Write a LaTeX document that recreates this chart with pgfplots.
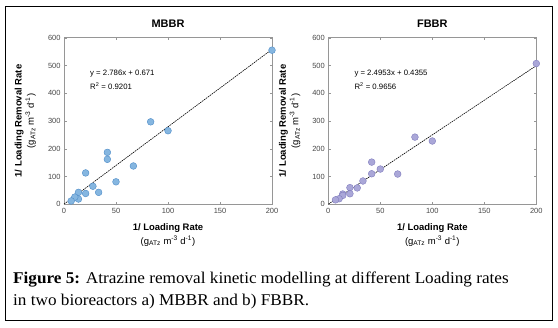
\documentclass[border=0pt]{standalone}
\usepackage{fontspec}
\setmainfont{Liberation Sans}
\newfontfamily\capfont{Liberation Serif}
\usepackage{pgfplots}
\pgfplotsset{compat=1.18}
\definecolor{mb}{RGB}{133,182,224}
\definecolor{mbe}{RGB}{78,140,200}
\definecolor{fb}{RGB}{170,167,216}
\definecolor{fbe}{RGB}{128,124,190}
\definecolor{axgray}{RGB}{150,150,150}
\definecolor{tickgray}{RGB}{70,70,70}
\pgfplotsset{myax/.style={
  scale only axis, width=208bp, height=166.6bp,
  xmin=0, xmax=200, ymin=0, ymax=600,
  xtick={0,50,...,200}, ytick={0,100,...,600},
  axis line style={axgray, line width=0.5pt},
  tick style={axgray, line width=0.4pt}, tick align=inside, major tick length=2.5bp,
  ticklabel style={font=\fontsize{7.5}{8}\selectfont, text=tickgray},
  /pgf/number format/assume math mode=true,
  title style={font=\bfseries\fontsize{11}{12}\selectfont, at={(axis description cs:0.5,1)}, anchor=base, yshift=4.5bp},
  xlabel style={align=center, font=\fontsize{9.5}{14}\selectfont, at={(axis description cs:0.5,-0.093)}, anchor=north},
  ylabel style={align=center, font=\fontsize{9.5}{12.5}\selectfont, at={(axis description cs:-0.118,0.5)}, anchor=south},
  xlabel={\textbf{1/ Loading Rate}\\(g\textsubscript{ATz} m\textsuperscript{-3} d\textsuperscript{-1})},
  ylabel={\textbf{1/ Loading Removal Rate}\\(g\textsubscript{ATz} m\textsuperscript{-3} d\textsuperscript{-1})},
  clip=false,
}}
\begin{document}
\begin{tikzpicture}[x=1bp,y=1bp]
\path[use as bounding box] (0,0) rectangle (558,327);
\draw[line width=0.9bp] (5.5,6.5) rectangle (552.5,321);

\begin{axis}[myax, at={(64bp,122.7bp)}, anchor=south west, title={MBBR}]
\addplot[black, line width=0.6pt, dash pattern=on 1.6pt off 0.8pt] coordinates {(0,0.671) (200,557.9)};
\addplot[only marks, mark=*, mark size=3.4bp, mark options={fill=mb, draw=mbe, line width=0.4pt}] coordinates {
(200,555) (83.3,297) (100,265) (41.7,187) (41.7,162) (66.7,138) (20.8,113)
(50,81) (27.8,65) (33.3,43) (20.8,39) (13.9,43) (13.9,19) (10.4,26) (6.9,12)
};
\node[anchor=west, font=\fontsize{7.8}{9}\selectfont, inner sep=0pt] at (axis cs:25,471) {y = 2.786x + 0.671};
\node[anchor=west, font=\fontsize{7.8}{9}\selectfont, inner sep=0pt] at (axis cs:25,427) {R\textsuperscript{2} = 0.9201};
\end{axis}

\begin{axis}[myax, at={(328.3bp,122.7bp)}, anchor=south west, title={FBBR}]
\addplot[black, line width=0.6pt, dash pattern=on 1.6pt off 0.8pt] coordinates {(0,0.4355) (200,499.5)};
\addplot[only marks, mark=*, mark size=3.4bp, mark options={fill=fb, draw=fbe, line width=0.4pt}] coordinates {
(200,507) (83.3,242) (100,228) (41.7,152) (41.7,110) (50,127) (66.7,109)
(33.3,84) (27.8,59) (20.8,60) (20.8,38) (13.9,37) (13.9,32) (10.4,20) (6.9,16)
};
\node[anchor=west, font=\fontsize{7.8}{9}\selectfont, inner sep=0pt] at (axis cs:25,471) {y = 2.4953x + 0.4355};
\node[anchor=west, font=\fontsize{7.8}{9}\selectfont, inner sep=0pt] at (axis cs:25,427) {R\textsuperscript{2} = 0.9656};
\end{axis}

\node[anchor=base west, inner sep=0pt, xscale=1.045, font=\capfont\fontsize{16.5}{18}\selectfont] at (13,44) {\textbf{Figure 5:} Atrazine removal kinetic modelling at different Loading rates};
\node[anchor=base west, inner sep=0pt, xscale=1.045, font=\capfont\fontsize{16.5}{18}\selectfont] at (13,22) {in two bioreactors a) MBBR and b) FBBR.};
\end{tikzpicture}
\end{document}
